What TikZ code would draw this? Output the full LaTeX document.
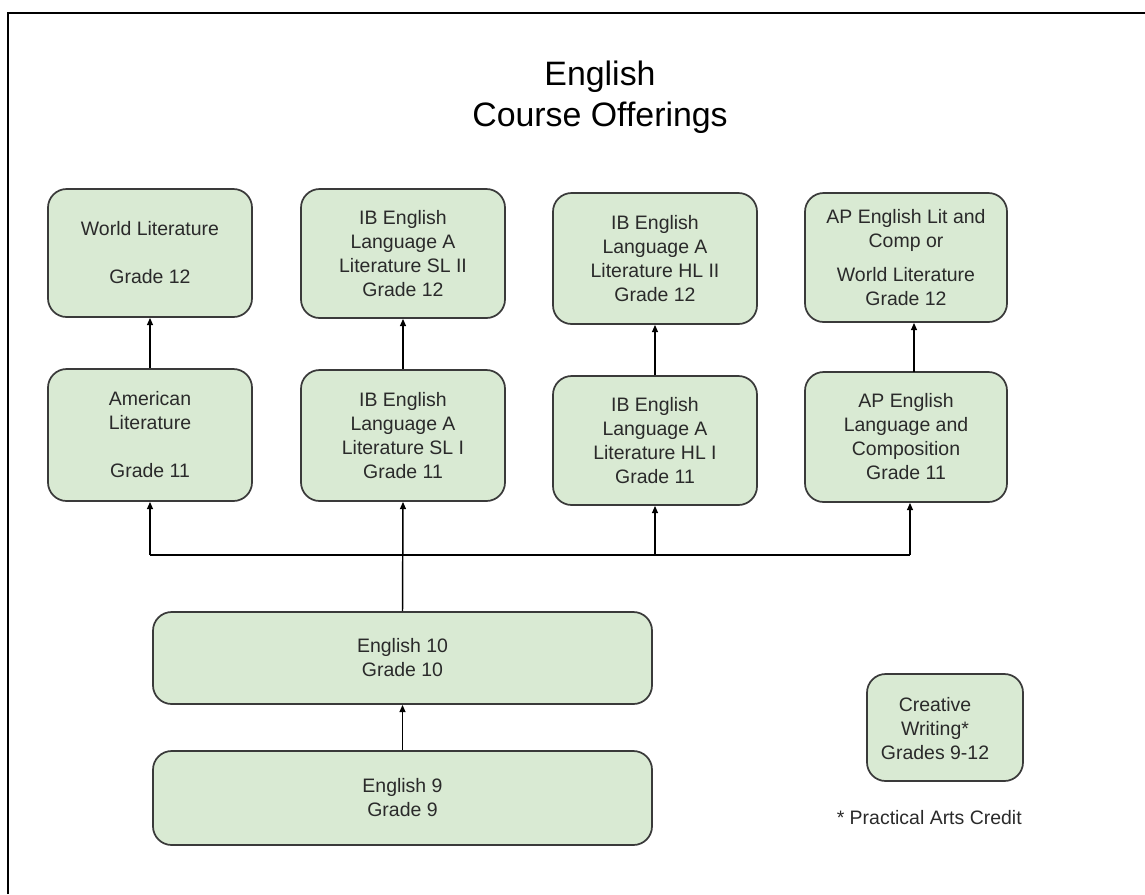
\documentclass[tikz,border=0pt]{standalone}
\usepackage{fontspec}
\setmainfont{Liberation Sans}
\usetikzlibrary{arrows.meta}
\definecolor{boxfill}{HTML}{D9EAD3}
\definecolor{boxline}{HTML}{3A3A3A}
\definecolor{txt}{HTML}{2A2A2A}
\tikzset{
  course/.style={draw=boxline, fill=boxfill, line width=1.3pt, rounded corners=14pt,
    align=center, inner sep=0pt, text=txt, font=\fontsize{14.6}{18}\selectfont},
  colbox/.style={course, minimum width=153pt},
  coursetext/.style={align=center, inner sep=0pt, text=txt, font=\fontsize{14.6}{18}\selectfont},
  conn/.style={draw=black, line width=1.1pt},
  arr/.style={conn, -{Triangle[width=4.5pt,length=5.5pt]}},
  frameline/.style={draw=black, line width=1.3pt}
}
\begin{document}
\begin{tikzpicture}[x=0.75pt,y=-0.75pt]
\useasboundingbox (0,0) rectangle (1145,894);
\draw[frameline] (8,894) -- (8,13) -- (1145,13);

\node[text=black, align=center, font=\fontsize{25.4}{31}\selectfont] (title) at (600,97) {English\\Course Offerings};

% Grade 12 row
\node[colbox, minimum height=96pt] (wl) at (150,253) {World Literature\\[18pt]Grade 12};
\node[colbox, minimum height=96.75pt] (sl2) at (403,253.5) {IB English\\Language A\\Literature SL II\\Grade 12};
\node[colbox, minimum height=98.25pt] (hl2) at (655,258.5) {IB English\\Language A\\Literature HL II\\Grade 12};
\node[course, minimum width=151.5pt, minimum height=96.75pt] (ap2) at (906,257.5) {AP English Lit and\\Comp or\\[8pt]World Literature\\Grade 12};

% Grade 11 row
\node[colbox, minimum height=99pt] (am) at (150,435) {American\\Literature\\[18pt]Grade 11};
\node[colbox, minimum height=98.25pt] (sl1) at (403,435.5) {IB English\\Language A\\Literature SL I\\Grade 11};
\node[colbox, minimum height=96.75pt] (hl1) at (655,440.5) {IB English\\Language A\\Literature HL I\\Grade 11};
\node[course, minimum width=151.5pt, minimum height=97.5pt] (ap1) at (906,437) {AP English\\Language and\\Composition\\Grade 11};

% Grades 9/10
\node[course, minimum width=374.25pt, minimum height=69pt] (e10) at (402.5,658) {English 10\\Grade 10};
\node[course, minimum width=374.25pt, minimum height=70.5pt] (e9) at (402.5,798) {English 9\\Grade 9};

% Creative writing
\node[course, minimum width=117pt, minimum height=80.25pt] (cw) at (945,727.5) {};
\node[coursetext] (cwtext) at (935,729) {Creative\\Writing*\\Grades 9-12};
\node[coursetext, anchor=east] (note) at (1022,818) {* Practical Arts Credit};

% vertical connections between rows
\draw[arr] (am.north) -- (wl.south);
\draw[arr] (sl1.north) -- (sl2.south);
\draw[arr] (hl1.north) -- (hl2.south);
\coordinate (apb) at (914,372);
\draw[arr] (apb) -- (apb |- ap2.south);

\draw[arr] (e9.north) -- (e10.south);
\draw[arr] (e10.north) -- (sl1.south);

% distribution bus
\coordinate (bl) at (150,555);
\coordinate (bh) at (655,555);
\coordinate (br) at (910,555);
\draw[conn] (bl) -- (br);
\draw[arr] (bl) -- (am.south);
\draw[arr] (bh) -- (hl1.south);
\draw[arr] (br) -- (br |- ap1.south);
\end{tikzpicture}
\end{document}
